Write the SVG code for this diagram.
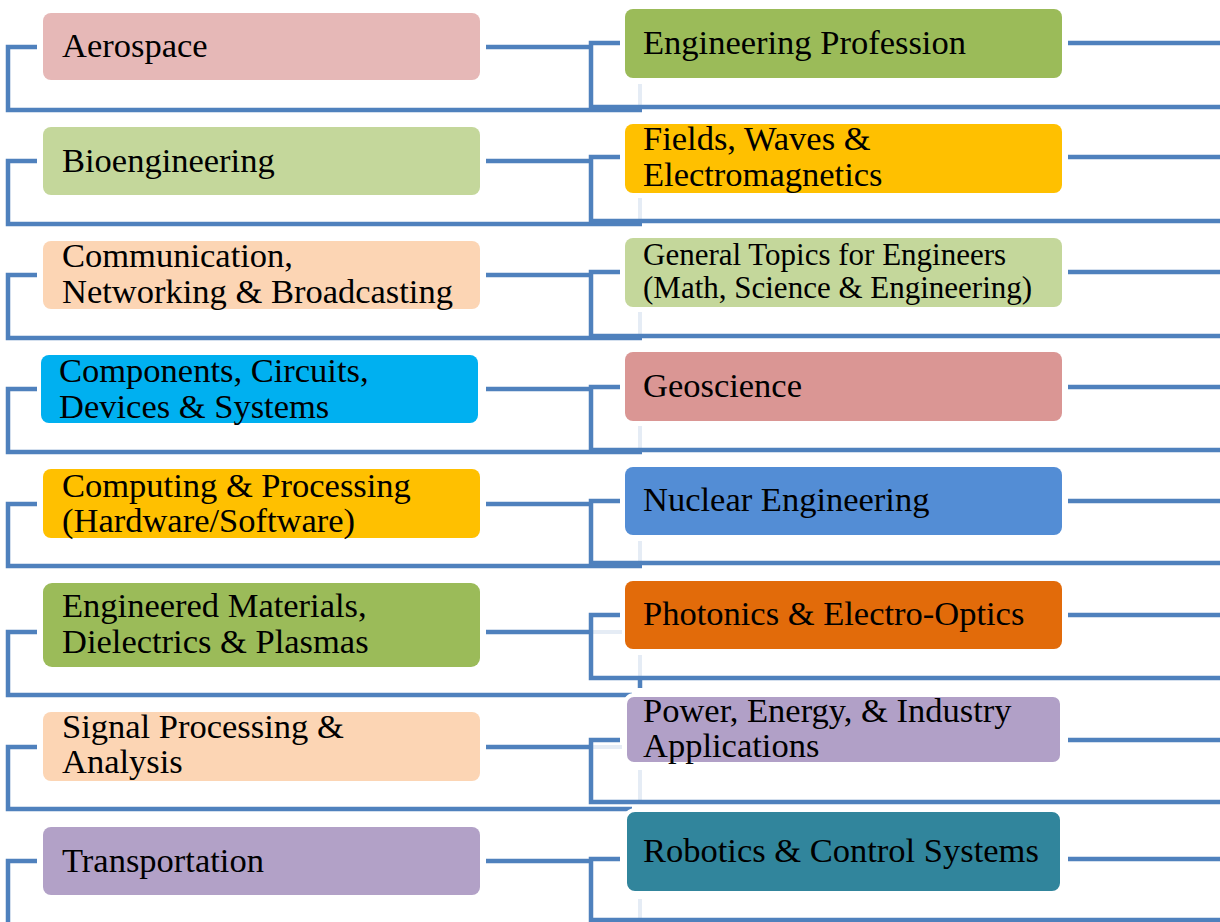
<svg xmlns="http://www.w3.org/2000/svg" width="1220" height="922" viewBox="0 0 1220 922">
<style>
.c{fill:none;stroke:#4f81bd;stroke-width:4.5;stroke-linejoin:miter}
.g{fill:none;stroke:#e5ecf5;stroke-width:4}
.b{stroke:none}
.bw{stroke:#ffffff;stroke-width:4}
text{font-family:"Liberation Serif","Times New Roman",serif;font-size:34.5px;fill:#000}
.s{font-size:31px}
</style>
<rect width="1220" height="922" fill="#ffffff"/>
<g id="connectors">
<path class="g" d="M640,84V108 M640,198V222 M640,312V336 M640,426V450 M640,541V564 M640,655V680 M640,770V802 M640,899V922"/>
<path class="g" d="M591,632H622 M591,747H622"/>
<path class="c" d="M37,47H8V110H642"/>
<path class="c" d="M37,161H8V224H642"/>
<path class="c" d="M37,275H8V338H642"/>
<path class="c" d="M37,389H8V452H642"/>
<path class="c" d="M37,504H8V566H642"/>
<path class="c" d="M37,632H8V695H632"/>
<path class="c" d="M37,747H8V809H632"/>
<path class="c" d="M37,861H8V924"/>
<path class="c" d="M486,47H591 M486,161H591 M486,275H591 M486,389H591 M486,504H591 M486,632H591 M486,747H591 M486,861H591"/>
<path class="c" d="M620,43H591V107H1220"/>
<path class="c" d="M620,157H591V221H1220"/>
<path class="c" d="M620,272H591V336H1220"/>
<path class="c" d="M620,387H591V450H1220"/>
<path class="c" d="M620,501H591V563H1220"/>
<path class="c" d="M620,615H591V678H1220"/>
<path class="c" d="M620,740H591V802H1220"/>
<path class="c" d="M620,859H591V920H1220"/>
<path class="c" d="M640,678V688"/>
<path class="c" d="M1068,43H1220 M1068,157H1220 M1068,272H1220 M1068,387H1220 M1068,501H1220 M1068,615H1220 M1068,740H1220 M1068,859H1220"/>
</g>
<g id="aerospace"><rect class="b" x="43" y="13" width="437" height="67" rx="8" fill="#e6b8b7"/><text x="62" y="57">Aerospace</text></g>
<g id="bioengineering"><rect class="b" x="43" y="127" width="437" height="68" rx="8" fill="#c4d79b"/><text x="62" y="172">Bioengineering</text></g>
<g id="communication"><rect class="b" x="43" y="241" width="437" height="68" rx="8" fill="#fcd5b4"/><text x="62" y="267">Communication,</text><text x="62" y="303">Networking &amp; Broadcasting</text></g>
<g id="components"><rect class="b" x="41" y="355" width="437" height="68" rx="8" fill="#00b0f0"/><text x="59" y="382">Components, Circuits,</text><text x="59" y="418">Devices &amp; Systems</text></g>
<g id="computing"><rect class="b" x="43" y="469" width="437" height="69" rx="8" fill="#ffc000"/><text x="62" y="497">Computing &amp; Processing</text><text x="62" y="532">(Hardware/Software)</text></g>
<g id="materials"><rect class="b" x="43" y="583" width="437" height="84" rx="9" fill="#9bbb59"/><text x="62" y="617">Engineered Materials,</text><text x="62" y="653">Dielectrics &amp; Plasmas</text></g>
<g id="signal"><rect class="b" x="43" y="712" width="437" height="69" rx="8" fill="#fcd5b4"/><text x="62" y="738">Signal Processing &amp;</text><text x="62" y="773">Analysis</text></g>
<g id="transportation"><rect class="b" x="43" y="827" width="437" height="68" rx="8" fill="#b2a1c7"/><text x="62" y="872">Transportation</text></g>
<g id="engineering-profession"><rect class="b" x="625" y="9" width="437" height="69" rx="8" fill="#9bbb59"/><text x="643" y="54">Engineering Profession</text></g>
<g id="fields"><rect class="b" x="625" y="124" width="437" height="69" rx="8" fill="#ffc000"/><text x="643" y="150">Fields, Waves &amp;</text><text x="643" y="186">Electromagnetics</text></g>
<g id="general"><rect class="b" x="625" y="238" width="437" height="69" rx="8" fill="#c4d79b"/><text class="s" x="643" y="265">General Topics for Engineers</text><text class="s" x="643" y="298">(Math, Science &amp; Engineering)</text></g>
<g id="geoscience"><rect class="b" x="625" y="352" width="437" height="69" rx="8" fill="#da9694"/><text x="643" y="397">Geoscience</text></g>
<g id="nuclear"><rect class="b" x="625" y="467" width="437" height="68" rx="8" fill="#538dd5"/><text x="643" y="511">Nuclear Engineering</text></g>
<g id="photonics"><rect class="b" x="625" y="581" width="437" height="68" rx="8" fill="#e26b0a"/><text x="643" y="625">Photonics &amp; Electro-Optics</text></g>
<g id="power"><rect class="bw" x="625" y="695" width="437" height="69" rx="9" fill="#b1a0c7"/><text x="643" y="722">Power, Energy, &amp; Industry</text><text x="643" y="757">Applications</text></g>
<g id="robotics"><rect class="bw" x="625" y="810" width="437" height="83" rx="10" fill="#31859c"/><text x="643" y="862">Robotics &amp; Control Systems</text></g>
</svg>
